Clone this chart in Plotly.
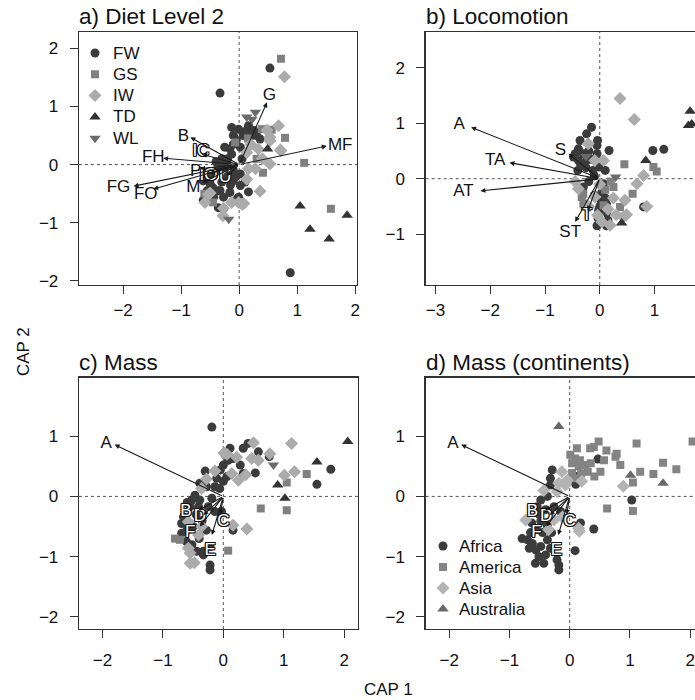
import plotly.graph_objects as go

# ---------------- DATA ----------------
# Panel a) Diet Level 2 : site scores by diet group
FW_a = [(-0.33,1.23),(0.53,1.66),(0.88,-1.86),(0.16,-0.47),(-0.13,0.64),(-0.01,0.61),(0.16,0.67),(0.25,0.59),
        (-0.10,0.50),(0.07,0.50),(0.22,0.50),(0.36,0.44),(-0.16,0.27),(-0.13,0.18),(0.02,0.30),(-0.30,0.10),
        (-0.21,0.07),(0.02,-0.16),(-0.10,-0.28),(0.02,-0.36),(-0.44,-0.19),(-0.50,-0.33),(-0.62,-0.28),(-0.33,-0.45),
        (-0.16,-0.48),(-0.44,-0.56),(-0.27,-0.56),(-0.01,-0.56),(-0.36,-0.74),(-0.27,-0.76),(-0.62,-0.61),(-0.03,-0.58),
        (-0.50,-0.20),(-0.40,-0.10),(-0.30,-0.30),(-0.20,-0.20),(-0.10,-0.10),(-0.45,-0.40),(-0.35,-0.45),(-0.25,-0.05),
        (-0.15,-0.35),(-0.05,-0.20),(-0.30,0.00),(-0.20,0.10),(-0.40,0.05),(-0.55,-0.45),(-0.60,-0.15),(-0.10,0.35),
        (0.05,0.10),(-0.05,0.42),(0.12,0.58),(0.30,0.50),(-0.25,0.30),(0.10,-0.30)]
GS_a = [(0.72,1.82),(1.12,0.03),(1.58,-0.76),(0.41,-0.14),(0.79,0.46),(0.56,0.60),(-0.07,0.38),(0.39,0.61),
        (-0.45,-0.65),(0.30,0.10),(0.15,0.45),(-0.60,-0.50)]
IW_a = [(0.78,1.51),(0.72,0.24),(0.53,0.01),(0.36,-0.46),(0.68,0.67),(0.53,0.47),(-0.01,-0.65),(0.08,-0.67),
        (-0.13,-0.65),(-0.27,-0.75),(-0.59,-0.65),(-0.50,-0.49),(-0.28,-0.88),(0.48,0.59),(0.53,0.41),(0.33,0.27),
        (0.71,0.25),(0.13,0.21),(0.16,-0.07),(0.28,-0.07),(0.13,-0.25),(-0.53,-0.51),(0.05,-0.68),(0.20,0.35),(0.40,0.10)]
TD_a = [(1.05,-0.71),(1.22,-1.11),(1.55,-1.28),(1.86,-0.87),(0.49,0.27)]
WL_a = [(0.28,0.90),(0.13,0.82),(0.22,0.78),(-0.18,-0.94)]

# Panel b) Locomotion
FW_b = [(0.97,0.51),(1.17,0.53),(0.80,-0.51),(-0.03,-0.72),(0.10,-0.60),(0.04,-0.24),(0.07,-0.09),(0.10,0.15),
        (0.17,0.51),(-0.04,0.69),(-0.15,0.93),(-0.24,0.81),(-0.36,0.69),(-0.39,0.54),(-0.48,0.39),(-0.39,0.33),
        (-0.24,0.33),(-0.05,0.45),(-0.12,0.15),(0.00,0.21),(0.03,-0.42),(-0.02,-0.57),(-0.45,0.45),(-0.30,0.45),
        (-0.20,0.50),(-0.35,0.25),(-0.25,0.20),(-0.15,0.35),(-0.40,0.15),(-0.10,0.05),(-0.05,0.60),(-0.30,-0.15),
        (-0.20,-0.05),(-0.10,-0.30),(0.00,-0.50),(0.10,-0.35),(0.12,-0.85),(-0.05,-0.85),(0.15,-0.75),(0.13,-0.62),
        (0.12,-0.45)]
GS_b = [(0.98,0.21),(1.04,0.13),(0.45,0.26),(0.60,-0.27),(0.25,-0.15),(0.37,-0.51),(0.07,-0.48),(-0.30,-0.27),
        (-0.33,-0.33),(-0.30,-0.45),(0.20,-0.05),(0.10,-0.20)]
IW_b = [(0.37,1.45),(0.63,1.07),(0.80,0.06),(0.68,-0.09),(0.46,-0.39),(0.49,-0.65),(0.43,-0.69),(0.86,-0.50),
        (0.19,-0.84),(0.04,-0.78),(-0.09,-0.33),(-0.39,-0.18),(-0.21,0.63),(-0.09,0.33),(0.07,0.33),(-0.04,-0.66),
        (0.15,-0.55),(0.30,-0.65),(-0.20,-0.50),(0.25,-0.35),(0.00,-0.10),(-0.45,-0.05)]
TD_b = [(1.65,1.22),(1.62,0.96),(1.68,0.99),(0.84,0.33),(0.40,-0.80)]
WL_b = [(0.29,0.03),(-0.25,0.40)]

# Panel c) Mass
FW_c = [(-0.19,1.15),(0.41,0.88),(0.33,0.80),(0.58,0.74),(0.76,0.66),(1.78,0.45),(1.55,0.20),(0.16,-0.56),
        (0.53,0.39),(0.33,0.38),(0.28,0.52),(0.11,0.80),(0.03,0.69),(0.08,0.60),(0.16,0.63),(0.00,0.52),
        (-0.05,0.44),(0.06,0.33),(-0.11,0.30),(-0.30,0.42),(0.00,0.25),(-0.39,0.22),(-0.28,0.16),(-0.14,0.16),
        (-0.06,0.13),(-0.47,0.02),(-0.52,-0.06),(-0.39,-0.06),(-0.19,-0.03),(-0.55,-0.17),(-0.41,-0.17),(-0.25,-0.17),
        (-0.14,-0.25),(-0.03,-0.25),(-0.66,-0.34),(-0.69,-0.45),(-0.50,-0.50),(-0.28,-0.56),(-0.69,-0.61),(-0.61,-0.75),
        (-0.52,-0.80),(-0.44,-0.91),(-0.33,-0.97),(-0.22,-1.14),(-0.22,-1.22),(-0.33,-0.91),(-0.22,-0.83),(-0.60,-0.10),
        (-0.45,-0.30),(-0.35,-0.40),(-0.60,-0.55),(-0.40,-0.70)]
GS_c = [(1.38,0.37),(1.05,0.23),(0.62,-0.20),(1.05,-0.23),(0.08,-0.90),(-0.80,-0.70),(-0.72,-0.72)]
IW_c = [(1.13,0.88),(0.50,0.89),(0.77,0.71),(0.47,0.63),(0.58,0.60),(1.18,0.41),(1.01,0.35),(0.39,-0.54),
        (0.16,-0.48),(0.37,0.36),(0.01,0.72),(0.22,0.65),(0.14,0.38),(-0.14,0.42),(-0.28,0.29),(-0.36,0.13),
        (-0.58,-0.42),(-0.36,-0.50),(-0.41,-0.64),(-0.58,-0.86),(-0.55,-0.94),(-0.55,-1.11),(-0.48,-1.10),(0.06,0.70),
        (0.25,0.27)]
TD_c = [(2.06,0.91),(1.55,0.57),(0.90,0.19),(1.02,-0.03)]
WL_c = [(0.83,0.52)]

# Panel d) Mass (continents)
Africa_d = [(0.47,0.62),(1.03,-0.06),(0.40,-0.54),(0.09,-0.90),(0.18,-0.44),(0.12,0.33),(-0.29,0.44),(-0.32,0.30),
            (-0.32,0.19),(-0.48,-0.06),(-0.37,0.00),(-0.54,-0.17),(-0.40,-0.22),(-0.26,-0.17),(-0.15,-0.25),(-0.63,-0.44),
            (-0.48,-0.41),(-0.37,-0.49),(-0.79,-0.70),(-0.70,-0.72),(-0.62,-0.78),(-0.67,-0.86),(-0.56,-0.89),(-0.48,-0.83),
            (-0.37,-0.72),(-0.32,-0.86),(-0.51,-1.00),(-0.40,-0.97),(-0.57,-1.11),(-0.43,-1.11),(-0.18,-1.14),(-0.18,-1.22),
            (-0.21,-1.05),(-0.50,-0.30),(-0.55,-0.55),(-0.45,-0.60),(-0.30,-0.60),(-0.65,-0.60),(0.10,0.20)]
America_d = [(2.04,0.91),(1.11,0.88),(0.48,0.91),(0.40,0.82),(0.34,0.80),(0.12,0.80),(0.61,0.76),(0.78,0.71),
             (0.76,0.66),(0.57,0.60),(0.84,0.52),(1.55,0.56),(1.77,0.45),(1.17,0.41),(1.39,0.37),(1.05,0.23),
             (0.62,-0.20),(1.05,-0.24),(0.51,0.41),(0.01,0.69),(0.09,0.63),(0.17,0.60),(0.04,0.55),(0.15,0.50),
             (0.26,0.52),(0.30,0.41),(0.41,0.33),(0.19,0.38),(0.04,0.39),(0.09,0.30),(0.35,0.55)]
Asia_d = [(0.89,0.17),(0.16,-0.58),(0.15,-0.53),(-0.13,0.41),(-0.04,0.27),(-0.18,0.22),(-0.07,0.19),(-0.43,0.10),
          (-0.21,0.08),(-0.73,-0.39),(-0.26,-0.39),(-0.12,-0.34),(0.20,0.25),(-0.35,-0.55)]
Australia_d = [(-0.18,1.16),(1.01,0.35),(1.55,0.22)]

# Fitted vectors (arrow tips) and label positions
vec_a_names = ["G","MF","B","IC","FH","FG","FO","M","P","IO","U"]
vec_a_x = [0.48,1.51,-0.84,-0.64,-1.31,-1.82,-1.48,-0.63,-0.67,-0.50,-0.21]
vec_a_y = [1.07,0.32,0.47,0.18,0.11,-0.37,-0.42,-0.31,-0.07,-0.16,-0.19]
lab_a_x = [0.52,1.74,-0.96,-0.66,-1.48,-2.08,-1.61,-0.79,-0.75,-0.53,-0.24]
lab_a_y = [1.18,0.32,0.48,0.22,0.12,-0.40,-0.52,-0.39,-0.12,-0.19,-0.22]
halo_a = ["IC","IO","U"]

vec_b_names = ["A","TA","AT","S","ST","T"]
vec_b_x = [-2.35,-1.65,-2.18,-0.57,-0.45,-0.22]
vec_b_y = [0.93,0.29,-0.22,0.45,-0.78,-0.58]
lab_b_x = [-2.57,-1.91,-2.49,-0.72,-0.54,-0.24]
lab_b_y = [0.98,0.33,-0.24,0.50,-0.98,-0.66]
halo_b = ["T"]

vec_c_names = ["A","B","D","F","E","C"]
vec_c_x = [-1.80,-0.41,-0.33,-0.39,-0.19,-0.05]
vec_c_y = [0.86,-0.23,-0.31,-0.50,-0.64,-0.30]
lab_c_x = [-1.94,-0.62,-0.39,-0.55,-0.22,0.00]
lab_c_y = [0.88,-0.26,-0.33,-0.60,-0.90,-0.42]
halo_c = ["B","D","F","E","C"]

diet_groups = ["FW","GS","IW","TD","WL"]
continent_groups = ["Africa","America","Asia","Australia"]

# ---------------- STYLE ----------------
FONT = "Liberation Sans, Arial, Helvetica, sans-serif"
FS = 17
diet_style = {
    "FW": dict(symbol="circle", color="#3b3b3b", size=9),
    "GS": dict(symbol="square", color="#808080", size=8),
    "IW": dict(symbol="diamond", color="#ababab", size=10),
    "TD": dict(symbol="triangle-up", color="#333333", size=10),
    "WL": dict(symbol="triangle-down", color="#6b6b6b", size=10),
}
cont_style = {
    "Africa": dict(symbol="circle", color="#3b3b3b", size=9),
    "America": dict(symbol="square", color="#848484", size=8),
    "Asia": dict(symbol="diamond", color="#b3b3b3", size=10),
    "Australia": dict(symbol="triangle-up", color="#686868", size=10),
}

W, H = 695, 700
def px2x(p): return p / W
def px2y(p): return 1 - p / H

panels = {
    # name: (xaxis, yaxis, x-domain px, y-domain px, xrange, yrange, xticks, yticks, clipped-right, x standoff)
    "a": ("x", "y", (79, 357), (32, 285), (-2.76, 2.03), (-2.07, 2.28), [-2,-1,0,1,2], [-2,-1,0,1,2], False, 1),
    "b": ("x2", "y2", (425.7, 695), (32, 285), (-3.18, 1.74), (-1.92, 2.65), [-3,-2,-1,0,1], [-1,0,1,2], True, 1),
    "c": ("x3", "y3", (79, 358), (377.7, 629), (-2.39, 2.23), (-2.2, 1.97), [-2,-1,0,1,2], [-2,-1,0,1], False, 7),
    "d": ("x4", "y4", (425.7, 695), (377.7, 629), (-2.39, 2.08), (-2.2, 1.97), [-2,-1,0,1,2], [-2,-1,0,1], True, 7),
}
# legend layout (pixels): symbol x, text x, first row y, row step
legend_a_pos = (95, 111, 53, 21.3)
legend_d_pos = (443, 457, 546, 21.0)

fig = go.Figure()

def add_points(pts, style, name, xa, ya):
    fig.add_trace(go.Scatter(
        x=[p[0] for p in pts], y=[p[1] for p in pts], mode="markers", name=name,
        xaxis=xa, yaxis=ya, cliponaxis=True,
        marker=dict(symbol=style["symbol"], color=style["color"], size=style["size"], line=dict(width=0)),
        showlegend=False, hoverinfo="skip"))

diet_data = {
    "a": dict(FW=FW_a, GS=GS_a, IW=IW_a, TD=TD_a, WL=WL_a),
    "b": dict(FW=FW_b, GS=GS_b, IW=IW_b, TD=TD_b, WL=WL_b),
    "c": dict(FW=FW_c, GS=GS_c, IW=IW_c, TD=TD_c, WL=WL_c),
}
for pn in ["a", "b", "c"]:
    xa, ya = panels[pn][0], panels[pn][1]
    for g in diet_groups:
        add_points(diet_data[pn][g], diet_style[g], g, xa, ya)

cont_data = dict(Africa=Africa_d, America=America_d, Asia=Asia_d, Australia=Australia_d)
for g in continent_groups:
    add_points(cont_data[g], cont_style[g], g, "x4", "y4")

annotations = []
shapes = []

HALO = ("1px 1px 0 #111, -1px -1px 0 #111, 1px -1px 0 #111, -1px 1px 0 #111, "
        "0 1px 0 #111, 0 -1px 0 #111, 1px 0 0 #111, -1px 0 0 #111")

def add_vectors(pn, names, vx, vy, lx, ly, halo):
    xa, ya = panels[pn][0], panels[pn][1]
    for n, x, y in zip(names, vx, vy):
        annotations.append(dict(x=x, y=y, ax=0, ay=0, xref=xa, yref=ya, axref=xa, ayref=ya,
                                text="", showarrow=True, arrowhead=2, arrowsize=0.9, arrowwidth=1.1,
                                arrowcolor="#1a1a1a", standoff=0, startstandoff=0))
    plain = [(n, a, b) for n, a, b in zip(names, lx, ly) if n not in halo]
    outl = [(n, a, b) for n, a, b in zip(names, lx, ly) if n in halo]
    if plain:
        fig.add_trace(go.Scatter(x=[p[1] for p in plain], y=[p[2] for p in plain], text=[p[0] for p in plain],
                                 mode="text", xaxis=xa, yaxis=ya, showlegend=False, hoverinfo="skip",
                                 textfont=dict(family=FONT, size=FS, color="#111111")))
    if outl:
        fig.add_trace(go.Scatter(x=[p[1] for p in outl], y=[p[2] for p in outl], text=[p[0] for p in outl],
                                 mode="text", xaxis=xa, yaxis=ya, showlegend=False, hoverinfo="skip",
                                 textfont=dict(family=FONT, size=FS, color="white", shadow=HALO)))

add_vectors("a", vec_a_names, vec_a_x, vec_a_y, lab_a_x, lab_a_y, halo_a)
add_vectors("b", vec_b_names, vec_b_x, vec_b_y, lab_b_x, lab_b_y, halo_b)
add_vectors("c", vec_c_names, vec_c_x, vec_c_y, lab_c_x, lab_c_y, halo_c)
add_vectors("d", vec_c_names, vec_c_x, vec_c_y, lab_c_x, lab_c_y, halo_c)

# Legends drawn on an invisible pixel-space overlay axis
def add_legend(groups, styles, pos):
    sx, tx, y0, dy = pos
    ys = [y0 + i * dy for i in range(len(groups))]
    for g, y in zip(groups, ys):
        st = styles[g]
        fig.add_trace(go.Scatter(x=[sx], y=[y], mode="markers", xaxis="x5", yaxis="y5", showlegend=False,
                                 hoverinfo="skip",
                                 marker=dict(symbol=st["symbol"], color=st["color"], size=st["size"], line=dict(width=0))))
        annotations.append(dict(text=g, xref="paper", yref="paper", x=px2x(tx), y=px2y(y), xanchor="left",
                                yanchor="middle", showarrow=False, font=dict(family=FONT, size=FS, color="#111")))

add_legend(diet_groups, diet_style, legend_a_pos)
add_legend(continent_groups, cont_style, legend_d_pos)

layout_axes = {}
for pn, (xa, ya, xd, yd, xr, yr, xt, yt, clipped, xstand) in panels.items():
    xkey = "xaxis" + xa[1:]
    ykey = "yaxis" + ya[1:]
    layout_axes[xkey] = dict(domain=[px2x(xd[0]), px2x(xd[1])], range=list(xr), anchor=ya,
                             tickmode="array", tickvals=xt, ticks="outside", ticklen=8, tickwidth=1,
                             tickcolor="#333", showgrid=False, zeroline=False, showline=True, mirror=True,
                             linecolor="#333", linewidth=1.3, ticklabelstandoff=xstand,
                             tickfont=dict(family=FONT, size=FS, color="#111"), fixedrange=True)
    layout_axes[ykey] = dict(domain=[px2y(yd[1]), px2y(yd[0])], range=list(yr), anchor=xa,
                             tickmode="array", tickvals=yt, ticks="outside", ticklen=8, tickwidth=1,
                             tickcolor="#333", showgrid=False, zeroline=False, showline=True, mirror=not clipped,
                             linecolor="#333", linewidth=1.3, ticklabelstandoff=8,
                             tickfont=dict(family=FONT, size=FS, color="#111"), fixedrange=True)
    # dotted reference lines at 0
    shapes.append(dict(type="line", xref=xa + " domain", yref=ya, x0=0, x1=1, y0=0, y1=0,
                       line=dict(color="#555", width=1, dash="dot"), layer="below"))
    shapes.append(dict(type="line", xref=xa, yref=ya + " domain", x0=0, x1=0, y0=0, y1=1,
                       line=dict(color="#555", width=1, dash="dot"), layer="below"))

layout_axes["xaxis5"] = dict(domain=[0, 1], range=[0, W], anchor="y5", visible=False, fixedrange=True)
layout_axes["yaxis5"] = dict(domain=[0, 1], range=[H, 0], anchor="x5", visible=False, fixedrange=True)

titles = [("a) Diet Level 2", 77, 17), ("b) Locomotion", 424, 17), ("c) Mass", 77, 362), ("d) Mass (continents)", 424, 362)]
for t, x, y in titles:
    annotations.append(dict(text=t, xref="paper", yref="paper", x=px2x(x), y=px2y(y), xanchor="left",
                            yanchor="middle", showarrow=False, font=dict(family=FONT, size=22.5, color="#111")))
annotations.append(dict(text="CAP 2", xref="paper", yref="paper", x=px2x(23), y=px2y(352), textangle=-90,
                        showarrow=False, xanchor="center", yanchor="middle", font=dict(family=FONT, size=FS, color="#111")))
annotations.append(dict(text="CAP 1", xref="paper", yref="paper", x=px2x(388), y=px2y(689),
                        showarrow=False, xanchor="center", yanchor="middle", font=dict(family=FONT, size=FS, color="#111")))

fig.update_layout(
    width=W, height=H, margin=dict(l=0, r=0, t=0, b=0, autoexpand=False),
    paper_bgcolor="white", plot_bgcolor="rgba(0,0,0,0)",
    font=dict(family=FONT, size=FS, color="#111"),
    annotations=annotations, shapes=shapes, showlegend=False,
    **layout_axes,
)

fig.write_html("out.html", config={"displayModeBar": False, "staticPlot": True},
               post_script="document.body.style.margin='0';document.body.style.padding='0';document.body.style.overflow='hidden';")
